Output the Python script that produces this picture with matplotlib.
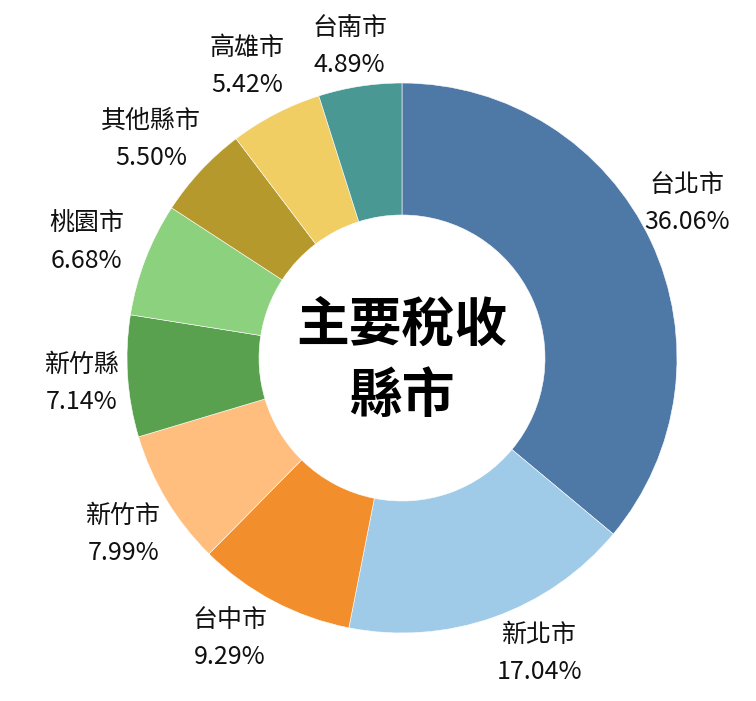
import numpy as np
import matplotlib.pyplot as plt

plt.rcParams['font.family'] = ['Noto Sans CJK TC', 'DejaVu Sans']

cities = ['台北市', '新北市', '台中市', '新竹市', '新竹縣', '桃園市', '其他縣市', '高雄市', '台南市']
shares = [36.06, 17.04, 9.29, 7.99, 7.14, 6.68, 5.50, 5.42, 4.89]
colors = ['#4E79A7', '#A0CBE8', '#F28E2B', '#FFBE7D', '#59A14F',
          '#8CD17D', '#B6992D', '#F1CE63', '#499894']

# small per-label tweaks (angle in degrees, distance from centre)
nudge_deg = [3.4, 5.5, -3.7, 1.3, 0.8, 1.0, 2.0, 0.7, 0.7]
label_r = [1.18, 1.185, 1.196, 1.2, 1.167, 1.22, 1.21, 1.2, 1.15]

fig = plt.figure(figsize=(7.56, 7.01), dpi=100)
ax = fig.add_axes([0, 0, 1, 1])

wedges, _ = ax.pie(shares, colors=colors, startangle=90, counterclock=False,
                   radius=1.0, wedgeprops=dict(width=0.48, edgecolor='white', linewidth=0.4))

for w, name, val, dd, rr in zip(wedges, cities, shares, nudge_deg, label_r):
    ang = np.deg2rad((w.theta1 + w.theta2) / 2 + dd)
    ax.text(rr * np.cos(ang), rr * np.sin(ang), f'{name}\n{val:.2f}%',
            ha='center', va='center', fontsize=18, linespacing=1.55, color='#111111')

ax.text(0, -0.01, '主要稅收\n縣市', ha='center', va='center', fontsize=38,
        fontweight='bold', linespacing=1.45)

ax.set_xlim(-402 / 275, 354 / 275)
ax.set_ylim(-343 / 275, 358 / 275)
ax.set_aspect('equal', adjustable='box')
ax.axis('off')

fig.savefig('out.png', dpi=100, facecolor='white')
